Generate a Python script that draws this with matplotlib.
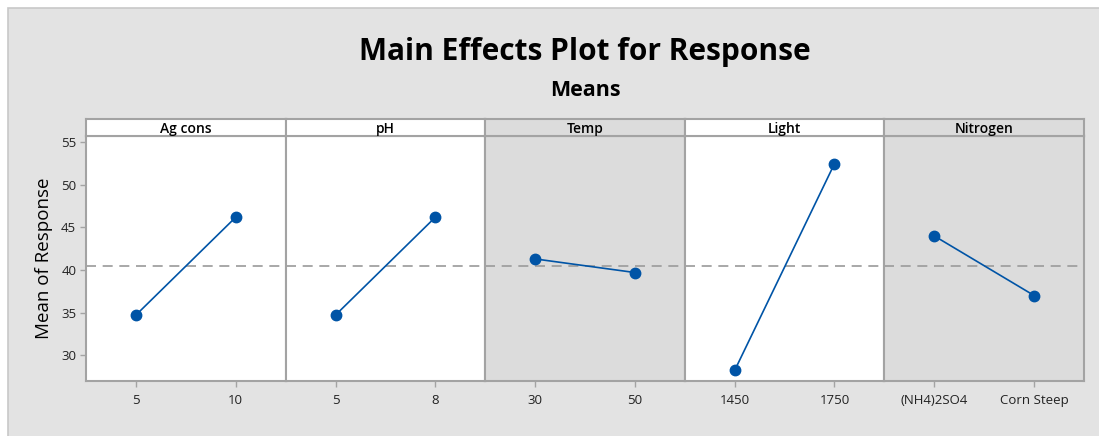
import matplotlib; matplotlib.use('Agg')
import matplotlib.pyplot as plt
from matplotlib.patches import Rectangle

plt.rcParams['font.family'] = ['Open Sans', 'DejaVu Sans']

factors = ['Ag cons', 'pH', 'Temp', 'Light', 'Nitrogen']
levels = [['5', '10'], ['5', '8'], ['30', '50'], ['1450', '1750'], ['(NH4)2SO4', 'Corn Steep']]
means = [[34.7, 46.2], [34.7, 46.2], [41.3, 39.7], [28.2, 52.5], [44.0, 37.0]]
grand_mean = 40.5
shaded = [False, False, True, False, True]

BG = '#e3e3e3'
EDGE = '#a3a3a3'
BLUE = '#0054a6'
W, H = 1099, 436

fig = plt.figure(figsize=(W / 100, H / 100), dpi=100)
fig.patch.set_facecolor('white')
# gray canvas with thin border on top/left only (runs off the right and bottom)
fig.patches.append(Rectangle((8 / W, -0.05), 1.1, 1.05 - 8 / H, transform=fig.transFigure,
                             facecolor=BG, edgecolor='#c8c8c8', lw=1.2, zorder=-10))

left, right = 86, 1084
pw = (right - left) / len(factors)
bot, top, htop = 381, 136, 119

for i, (f, lv, m) in enumerate(zip(factors, levels, means)):
    x0 = (left + i * pw) / W
    fc = '#dcdcdc' if shaded[i] else 'white'
    ax = fig.add_axes([x0, 1 - bot / H, pw / W, (bot - top) / H])
    ax.set_facecolor(fc)
    ax.axhline(grand_mean, color='#9a9a9a', lw=1.2, ls=(0, (6, 4)), zorder=1)
    ax.plot([0, 1], m, '-', color=BLUE, lw=1.2, marker='o', ms=7.5, zorder=3)
    ax.set_xlim(-0.5, 1.5)
    ax.set_ylim(26.95, 55.75)
    ax.set_xticks([0, 1])
    ax.set_xticklabels(lv, fontsize=9.5, color='#222222')
    ax.set_yticks([30, 35, 40, 45, 50, 55])
    ax.tick_params(axis='x', length=4, width=1, color=EDGE, pad=5)
    if i == 0:
        ax.tick_params(axis='y', length=4, width=1, color=EDGE, labelsize=9.5,
                       labelcolor='#222222', pad=3)
        ax.set_ylabel('Mean of Response', fontsize=13.5, labelpad=6)
    else:
        ax.tick_params(axis='y', left=False, labelleft=False)
    for s in ax.spines.values():
        s.set_color(EDGE); s.set_linewidth(1.5)

    hx = fig.add_axes([x0, 1 - top / H, pw / W, (top - htop) / H])
    hx.set_facecolor(fc)
    hx.set_xticks([]); hx.set_yticks([])
    for s in hx.spines.values():
        s.set_color(EDGE); s.set_linewidth(1.5)
    hx.text(0.5, 0.42, f, ha='center', va='center', fontsize=10, fontweight='semibold',
            transform=hx.transAxes)

cx = (left + right) / 2 / W
fig.text(cx, 1 - 52 / H, 'Main Effects Plot for Response', ha='center', va='center',
         fontsize=21.5, fontweight='bold')
fig.text(cx, 1 - 90 / H, 'Means', ha='center', va='center', fontsize=15.5, fontweight='bold')

plt.savefig('out.png', dpi=100, facecolor=fig.get_facecolor())
plt.close()
